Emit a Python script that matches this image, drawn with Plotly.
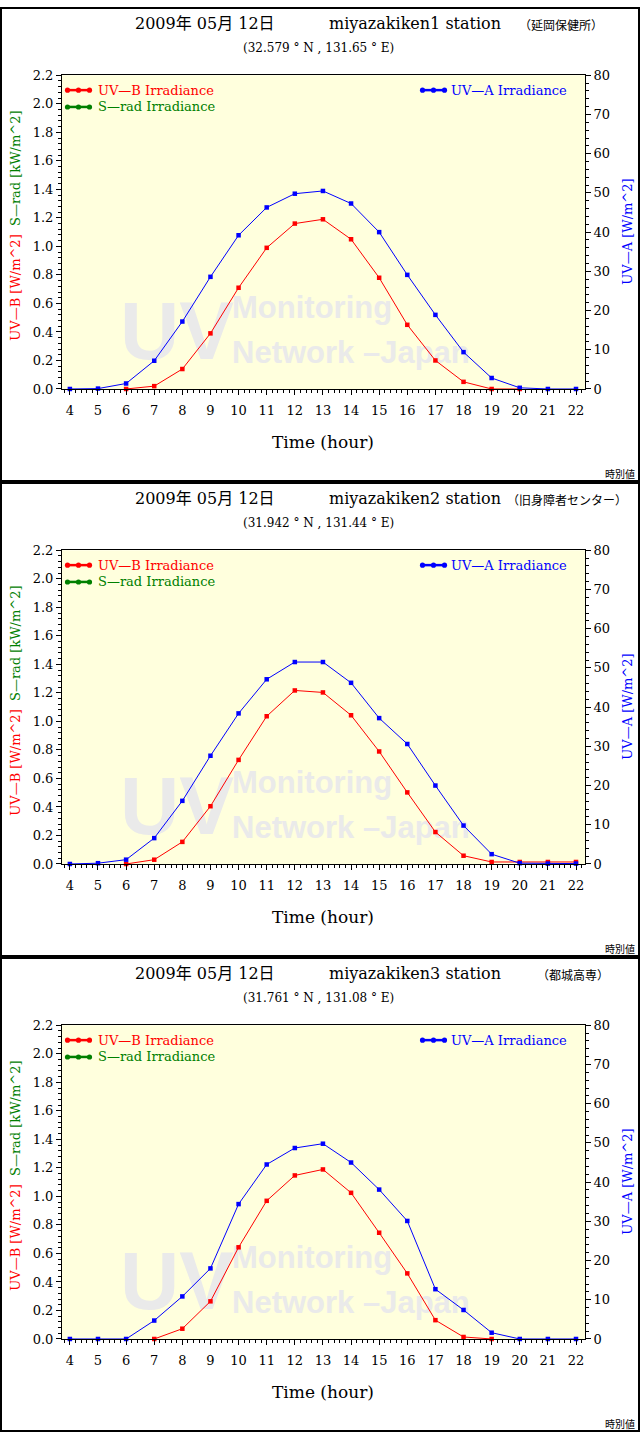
import plotly.graph_objects as go

# ---------------- data ----------------
hours = list(range(4, 23))
hour_labels = [str(h) for h in hours]

uvb_1 = [None, None, 0.00, 0.02, 0.14, 0.39, 0.71, 0.99, 1.16, 1.19, 1.05, 0.78, 0.45, 0.20, 0.05, 0.00, 0.00, None, None]
uva_1 = [0.0, 0.1, 1.4, 7.2, 17.2, 28.6, 39.2, 46.3, 49.8, 50.5, 47.3, 40.0, 29.1, 18.9, 9.4, 2.8, 0.3, 0.0, 0.0]

uvb_2 = [None, None, 0.00, 0.03, 0.155, 0.405, 0.73, 1.036, 1.217, 1.203, 1.043, 0.789, 0.502, 0.224, 0.058, 0.014, 0.014, 0.014, 0.014]
uva_2 = [0.0, 0.2, 1.1, 6.6, 16.1, 27.6, 38.4, 47.1, 51.5, 51.5, 46.2, 37.2, 30.6, 20.0, 9.8, 2.5, 0.2, 0.1, 0.1]

uvb_3 = [None, None, None, 0.00, 0.072, 0.264, 0.643, 0.969, 1.147, 1.189, 1.025, 0.745, 0.46, 0.132, 0.014, 0.00, None, None, None]
uva_3 = [0.0, 0.0, 0.0, 4.7, 10.85, 18.0, 34.4, 44.5, 48.7, 49.8, 45.0, 38.1, 30.1, 12.7, 7.4, 1.6, 0.0, 0.0, 0.0]

uvb_series = [uvb_1, uvb_2, uvb_3]
uva_series = [uva_1, uva_2, uva_3]

dates = ["2009年 05月 12日", "2009年 05月 12日", "2009年 05月 12日"]
stations = ["miyazakiken1 station", "miyazakiken2 station", "miyazakiken3 station"]
places = ["（延岡保健所）", "（旧身障者センター）", "（都城高専）"]
coords = ["(32.579 ° N , 131.65 ° E)", "(31.942 ° N , 131.44 ° E)", "(31.761 ° N , 131.08 ° E)"]

uvb_ticks = [0.0, 0.2, 0.4, 0.6, 0.8, 1.0, 1.2, 1.4, 1.6, 1.8, 2.0, 2.2]
uvb_tick_labels = ["%.1f" % v for v in uvb_ticks]
uva_ticks = [0, 10, 20, 30, 40, 50, 60, 70, 80]
uva_tick_labels = [str(v) for v in uva_ticks]

legend_uvb = "UV—B Irradiance"
legend_srad = "S—rad Irradiance"
legend_uva = "UV—A Irradiance"
left_title = '<span style="color:#ff0000">UV—B [W/m^2]</span>  <span style="color:#008000">S—rad [kW/m^2]</span>'
right_title = "UV—A [W/m^2]"
x_title = "Time (hour)"
footer = "時別値"
watermark = ["<b>UV</b>", "<b>Monitoring</b>", "<b>Network –Japan</b>"]

# ---------------- layout helpers ----------------
W, H = 640, 1440
PANEL = 480
L, R, T, B = 62, 585, 69, 386
SERIF = "DejaVu Serif, Noto Sans CJK JP, serif"
CJK = "Noto Sans CJK JP, sans-serif"
SANS = "Liberation Sans, Arial, sans-serif"
WM = "#eaeaea"


def px(x):
    return x / W


def py(y):
    return 1 - y / H


def fx(p):
    return (p - L) / (R - L)


def fy(p):
    # p is a pixel row measured inside a single panel
    return (B - p) / (B - T)


fig = go.Figure()
layout = dict(
    width=W, height=H,
    margin=dict(l=0, r=0, t=0, b=0),
    paper_bgcolor="white",
    plot_bgcolor="#ffffdd",
    showlegend=False,
    font=dict(family=SERIF, size=13, color="black"),
)
annotations = []
shapes = []
tickfont = dict(family=SERIF, size=13, color="black")
place_x = [517, 505, 535]
wm_pos = [(117, 319, 82), (229, 301, 31), (229, 346, 31)]

for k in range(3):
    off = PANEL * k
    xid = "x" if k == 0 else "x%d" % (k + 1)
    yl = "y" if k == 0 else "y%d" % (2 * k + 1)
    yr = "y%d" % (2 * k + 2)
    xkey = "xaxis" if k == 0 else "xaxis%d" % (k + 1)
    ylkey = "yaxis" if k == 0 else "yaxis%d" % (2 * k + 1)
    yrkey = "yaxis%d" % (2 * k + 2)
    dom_y = [py(B + off), py(T + off)]

    layout[xkey] = dict(
        domain=[px(L), px(R)], anchor=yl, range=[3.72, 22.32],
        tickmode="array", tickvals=hours, ticktext=hour_labels,
        ticks="outside", ticklen=5, tickcolor="black", ticklabelstandoff=4,
        minor=dict(tickmode="linear", tick0=4, dtick=0.2, ticks="outside", ticklen=3, tickcolor="black"),
        showline=True, linecolor="black", linewidth=1, mirror=True,
        showgrid=False, zeroline=False, tickfont=tickfont, fixedrange=True,
    )
    layout[ylkey] = dict(
        domain=dom_y, anchor=xid, range=[0, 2.2],
        tickmode="array", tickvals=uvb_ticks, ticktext=uvb_tick_labels,
        ticks="outside", ticklen=5, tickcolor="black",
        minor=dict(tickmode="linear", tick0=0, dtick=0.04, ticks="outside", ticklen=3, tickcolor="black"),
        showline=True, linecolor="black", linewidth=1,
        showgrid=False, zeroline=False, tickfont=tickfont, fixedrange=True,
    )
    layout[yrkey] = dict(
        domain=dom_y, anchor=xid, overlaying=yl, side="right", range=[0, 80],
        tickmode="array", tickvals=uva_ticks, ticktext=uva_tick_labels,
        ticks="outside", ticklen=5, tickcolor="black",
        minor=dict(tickmode="linear", tick0=0, dtick=2, ticks="outside", ticklen=3, tickcolor="black"),
        showline=True, linecolor="black", linewidth=1,
        showgrid=False, zeroline=False, tickfont=tickfont, fixedrange=True,
    )

    # data traces
    fig.add_trace(go.Scatter(
        x=hours, y=uvb_series[k], xaxis=xid, yaxis=yl, mode="lines+markers",
        line=dict(color="#ff0000", width=1), marker=dict(symbol="square", size=4.5, color="#ff0000"),
        cliponaxis=False, hoverinfo="skip",
    ))
    fig.add_trace(go.Scatter(
        x=hours, y=uva_series[k], xaxis=xid, yaxis=yr, mode="lines+markers",
        line=dict(color="#0000ff", width=1), marker=dict(symbol="square", size=4.5, color="#0000ff"),
        cliponaxis=False, hoverinfo="skip",
    ))

    # watermark (below traces)
    for txt, (x0, yc, size) in zip(watermark, wm_pos):
        shapes.append(dict(
            type="rect", xref=xid + " domain", yref=yl + " domain", layer="below",
            x0=fx(x0), x1=fx(x0 + 10), y0=fy(yc + 5), y1=fy(yc - 5),
            line=dict(width=0), fillcolor="rgba(0,0,0,0)",
            label=dict(text=txt, textposition="middle left", padding=0,
                       font=dict(family=SANS, size=size, color=WM)),
        ))

    # panel border
    shapes.append(dict(type="rect", xref="paper", yref="paper",
                       x0=px(1), x1=px(639), y0=py(off + 479), y1=py(off + 1),
                       line=dict(color="black", width=2), fillcolor="rgba(0,0,0,0)"))

    # legend symbols
    for color, sx, sy in [("#ff0000", 66, 84 + off), ("#008000", 66, 101 + off), ("#0000ff", 421, 84 + off)]:
        shapes.append(dict(type="line", xref="paper", yref="paper",
                           x0=px(sx), x1=px(sx + 25), y0=py(sy), y1=py(sy),
                           line=dict(color=color, width=2.5)))
        for cx in (sx + 1.5, sx + 12.5, sx + 23.5):
            shapes.append(dict(type="circle", xref="paper", yref="paper",
                               x0=px(cx - 2.6), x1=px(cx + 2.6), y0=py(sy + 2.6), y1=py(sy - 2.6),
                               line=dict(color=color, width=0), fillcolor=color))

    # legend texts
    for txt, color, lx, ly in [(legend_uvb, "#ff0000", 96, 84 + off),
                               (legend_srad, "#008000", 96, 101 + off),
                               (legend_uva, "#0000ff", 449, 84 + off)]:
        annotations.append(dict(text=txt, x=px(lx), y=py(ly), xref="paper", yref="paper",
                                xanchor="left", yanchor="middle", showarrow=False,
                                font=dict(family=SERIF, size=13, color=color)))

    # titles
    annotations.append(dict(text=dates[k], x=px(205), y=py(17 + off), xref="paper", yref="paper",
                            xanchor="center", yanchor="middle", showarrow=False,
                            font=dict(family=SERIF, size=16, color="black")))
    annotations.append(dict(text=stations[k], x=px(327), y=py(17 + off), xref="paper", yref="paper",
                            xanchor="left", yanchor="middle", showarrow=False,
                            font=dict(family=SERIF, size=16, color="black")))
    annotations.append(dict(text=places[k], x=px(place_x[k]), y=py(18 + off), xref="paper", yref="paper",
                            xanchor="left", yanchor="middle", showarrow=False,
                            font=dict(family=CJK, size=12, color="black")))
    annotations.append(dict(text=coords[k], x=px(318), y=py(41 + off), xref="paper", yref="paper",
                            xanchor="center", yanchor="middle", showarrow=False,
                            font=dict(family=SERIF, size=12, color="black")))

    # axis titles
    annotations.append(dict(text=left_title, x=px(16), y=py(221 + off), xref="paper", yref="paper",
                            xanchor="center", yanchor="middle", textangle=-90, showarrow=False,
                            font=dict(family=SERIF, size=13)))
    annotations.append(dict(text=right_title, x=px(628), y=py(227 + off), xref="paper", yref="paper",
                            xanchor="center", yanchor="middle", textangle=-90, showarrow=False,
                            font=dict(family=SERIF, size=13, color="#0000ff")))
    annotations.append(dict(text=x_title, x=px(323), y=py(440 + off), xref="paper", yref="paper",
                            xanchor="center", yanchor="middle", showarrow=False,
                            font=dict(family=SERIF, size=17, color="black")))
    annotations.append(dict(text=footer, x=px(637), y=py(471 + off), xref="paper", yref="paper",
                            xanchor="right", yanchor="middle", showarrow=False,
                            font=dict(family=CJK, size=10, color="black")))

layout["annotations"] = annotations
layout["shapes"] = shapes
fig.update_layout(**layout)

fig.write_html("out.html", config={"displayModeBar": False},
               post_script="document.body.style.margin='0';")
